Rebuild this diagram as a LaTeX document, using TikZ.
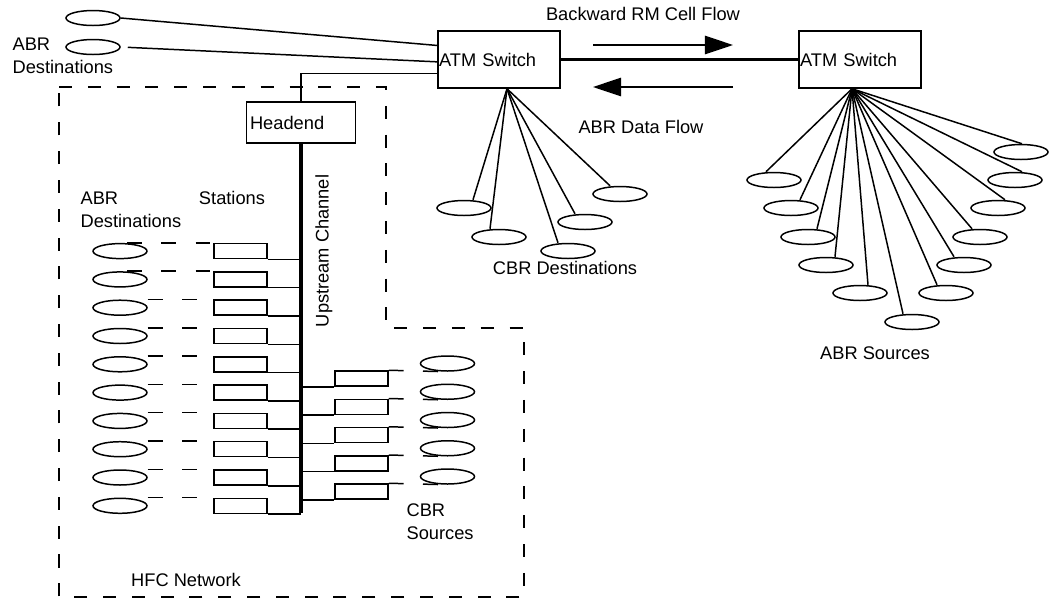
\documentclass[tikz,border=0pt]{standalone}
\usepackage{fontspec}
\setmainfont{Liberation Sans}
\usetikzlibrary{shapes.geometric}
\usetikzlibrary{arrows.meta}
\usetikzlibrary{calc}

\tikzset{
    endpt/.style = {draw, ellipse, minimum width=1.08cm, minimum height=0.3cm, inner sep=0pt},
    stnbox/.style = {draw, rectangle, minimum width=1.06cm, minimum height=0.3cm, inner sep=0pt},
    atmbox/.style = {draw, rectangle, minimum width=2.44cm, minimum height=1.14cm, text width=2.4cm, align=left, inner sep=0.5pt},
    linkdash/.style = {dash pattern=on 8.5pt off 11pt},
    flow/.style = {-{Triangle[length=16pt, width=10.5pt]}}
}

\begin{document}
\begin{tikzpicture} [x = 0.02cm, y = -0.02cm, line width = 0.85pt, font = \fontsize{10.4}{13}\selectfont]

    \useasboundingbox (0,0) rectangle (1049,600);

    % the two switches and the trunk between them
    \node [atmbox] (sw1) at (499,59.5) {ATM Switch};
    \node [atmbox] (sw2) at (860,59.5) {ATM Switch};
    \draw [line width = 1.8pt] (sw1.east) -- (sw2.west);

    \coordinate (bwa) at (593,45);
    \coordinate (bwb) at (733,45);
    \coordinate (fwa) at (733,87);
    \coordinate (fwb) at (593,87);
    \draw [flow] (bwa) -- (bwb);
    \draw [flow] (fwa) -- (fwb);
    \node at (643,14) {Backward RM Cell Flow};
    \node at (641,127) {ABR Data Flow};

    % ABR destinations hanging off the first switch
    \node [endpt] (top1) at (93,18) {};
    \node [endpt] (top2) at (93,47) {};
    \node [align = left, anchor = west] at (6,55.5) {ABR\\Destinations};
    \draw (top1.east) -- ($(sw1.north west)!0.26!(sw1.south west)$);
    \draw [shorten <= 4pt] (top2.east) -- ($(sw1.north west)!0.54!(sw1.south west)$);

    % headend and upstream channel
    \node [draw, minimum width = 2.12cm, minimum height = 0.82cm, text width = 2.04cm, align = left, inner sep = 2pt] (he) at (301,122.5) {Headend};
    \draw (he.north) |- ($(sw1.south west)!0.26!(sw1.north west)$);
    \coordinate (upend) at (301,513);
    \draw [line width = 1.8pt] (he.south) -- (upend);
    \node [rotate = 90] at (324,251) {Upstream Channel};

    % HFC network border
    \draw [dash pattern = on 7.4pt off 9pt] (59,87) -- (386,87) -- (386,328) -- (524,328) -- (524,597) -- (59,597) -- cycle;

    % stations with ABR destinations
    \foreach \k in {0,...,9} {
        \node [endpt] (d\k) at (120, {251.1+28.3*\k}) {};
        \node [stnbox] (s\k) at (240.5, {251.1+28.3*\k}) {};
        \draw (s\k.south east) -- (s\k.south east -| upend);
    }
    \foreach \k in {0,1} {
        \draw [linkdash] ($(d\k.north)+(7,0)$) -- (s\k.north west);
    }
    \foreach \k in {2,...,9} {
        \draw [linkdash] (d\k.east |- d\k.north) -- (s\k.north west);
    }
    \node [align = left, anchor = west] at (74,210) {ABR\\Destinations};
    \node at (232,198) {Stations};

    % stations with CBR sources
    \foreach \k in {0,...,4} {
        \node [stnbox] (c\k) at (361.5, {378.5+28.25*\k}) {};
        \node [endpt] (cs\k) at (447.5, {363.5+28.25*\k}) {};
        \draw (c\k.south west -| upend) -- (c\k.south west);
        \draw [linkdash] (c\k.north east) -- (cs\k.south);
    }
    \node [align = left, anchor = west] at (400,521.5) {CBR\\Sources};
    \node at (186,580) {HFC Network};

    % CBR destinations
    \coordinate (fan1) at ($(sw1.south)+(8,0)$);
    \foreach \x/\y/\dx [count=\i] in {464/208/9, 499/237/-9, 568/251/-10, 585/222/-10, 620/194/-10} {
        \node [endpt] (cd\i) at (\x,\y) {};
        \draw (fan1) -- ($(cd\i.north)+(\dx,0)$);
    }
    \node at (565,268) {CBR Destinations};

    % ABR sources
    \coordinate (fan2) at ($(sw2.south)+(-8,0)$);
    \foreach \x/\y/\dx [count=\i] in {774/180/-8, 791/208/9, 808/237/9, 826/265/9, 860/293/8, 912/322/-9,
                                       946/293/-9, 964/265/-10, 980/237/-8, 998/208/7, 1015/180/7, 1021/152/1} {
        \node [endpt] (as\i) at (\x,\y) {};
        \draw (fan2) -- ($(as\i.north)+(\dx,0)$);
    }
    \node at (875,353) {ABR Sources};

\end{tikzpicture}
\end{document}
